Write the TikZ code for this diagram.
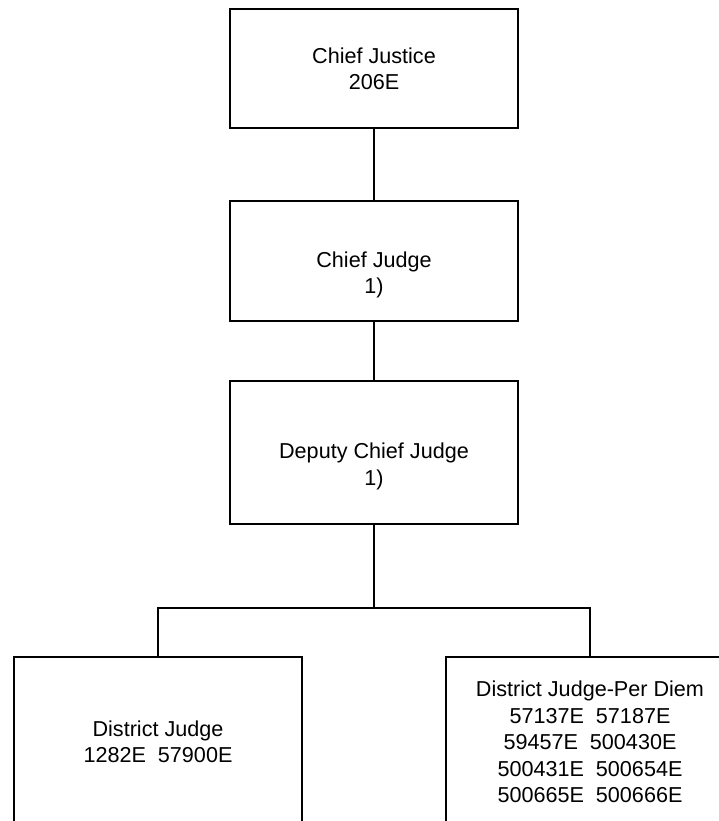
\documentclass[tikz,border=0pt]{standalone}
\usepackage{fontspec}
\setmainfont{Liberation Sans}
\tikzset{
  post/.style={draw, line width=1pt, minimum width=144pt, align=center,
    font=\fontsize{10.8}{13.2}\selectfont},
  title/.style={align=center, font=\fontsize{10.8}{13.2}\selectfont},
  link/.style={line width=1pt}
}
\begin{document}
\begin{tikzpicture}[x=0.5pt, y=-0.5pt]
\useasboundingbox (0,0) rectangle (719,821);

\node[post, minimum height=59.5pt] (cjustice) at (374,68.5) {Chief Justice\\206E};
\node[post, minimum height=60pt] (cjudge) at (374,261) {};
\node[title] (cjudgetxt) at ([yshift=-7pt]cjudge.center) {Chief Judge\\1)};
\node[post, minimum height=71.5pt] (dcjudge) at (374,452.5) {};
\node[title] (dcjudgetxt) at ([yshift=-7pt]dcjudge.center) {Deputy Chief Judge\\1)};

\node[post, minimum height=85pt] (djudge) at (158,742) {District Judge\\1282E\ \ 57900E};
\node[post, minimum height=85pt] (perdiem) at (590,742)
  {District Judge-Per Diem\\57137E\ \ 57187E\\59457E\ \ 500430E\\500431E\ \ 500654E\\500665E\ \ 500666E};

\coordinate (bar) at (374,608);
\draw[link] (cjustice) -- (cjudge);
\draw[link] (cjudge) -- (dcjudge);
\draw[link] (dcjudge) -- (bar);
\draw[link] (djudge.north) |- (bar) -| (perdiem.north);
\end{tikzpicture}
\end{document}
